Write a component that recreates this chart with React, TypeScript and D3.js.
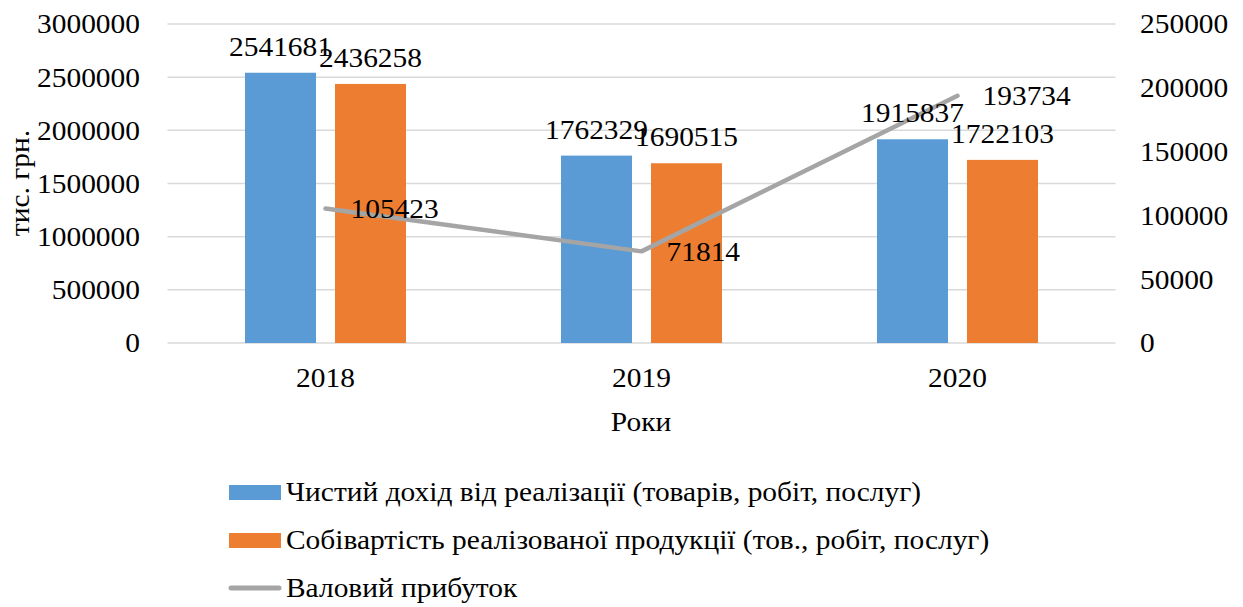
import React from 'react';
import * as d3 from 'd3';

// chart data
const years = ['2018', '2019', '2020'];
const revenue = [2541681, 1762329, 1915837];
const cost = [2436258, 1690515, 1722103];
const grossProfit = [105423, 71814, 193734];

const leftTicks = [0, 500000, 1000000, 1500000, 2000000, 2500000, 3000000];
const rightTicks = [0, 50000, 100000, 150000, 200000, 250000];

const seriesNames = [
  'Чистий дохід від реалізації (товарів, робіт, послуг)',
  'Собівартість реалізованої продукції (тов., робіт, послуг)',
  'Валовий прибуток',
];
const colors = ['#5b9bd5', '#ed7d31', '#a5a5a5'];

const W = 1243;
const H = 607;
const font = '"Liberation Serif", "Times New Roman", serif';
const fs = 27;
const sx = 1.09; // the source image text is slightly wide

// text with a small horizontal stretch, anchored at (x, y)
function T(props: { x: number; y: number; anchor?: string; rotate?: number; dy?: string; children: any }) {
  const { x, y, anchor = 'start', rotate = 0, dy = '0.35em', children } = props;
  return (
    <text
      transform={`translate(${x},${y}) rotate(${rotate}) scale(${sx},1)`}
      dy={dy}
      textAnchor={anchor}
      fontSize={fs}
      fill="#000"
    >{children}</text>
  );
}

export default function App() {
  const x = d3.scaleBand<string>().domain(years).range([167.5, 1115.5]);
  const xSub = d3.scaleBand<string>()
    .domain(['rev', 'cost'])
    .range([77.5, 238.5])
    .paddingInner(0.211);
  const yLeft = d3.scaleLinear().domain([0, 3000000]).range([343, 24]);
  const yRight = d3.scaleLinear().domain([0, 250000]).range([343, 24]);

  const bars = years.flatMap((yr, i) => [
    { key: 'rev', yr, v: revenue[i], color: colors[0] },
    { key: 'cost', yr, v: cost[i], color: colors[1] },
  ]);

  const pts = years.map((yr, i) => ({
    x: (x(yr) as number) + x.bandwidth() / 2,
    y: yRight(grossProfit[i]),
    v: grossProfit[i],
  }));

  const line = d3.line<{ x: number; y: number }>().x(d => d.x).y(d => d.y);

  return (
    <div style={{ position: 'absolute', left: 0, top: 0 }}>
      <svg width={W} height={H} style={{ display: 'block', background: '#fff' }} fontFamily={font}>
        {/* gridlines */}
        {leftTicks.map(t => (
          <line key={t} x1={167.5} x2={1115.5} y1={yLeft(t)} y2={yLeft(t)} stroke="#d9d9d9" strokeWidth={1.5} />
        ))}
        {/* left axis labels */}
        {leftTicks.map(t => (
          <T key={t} x={140} y={yLeft(t)} anchor="end">{t}</T>
        ))}
        {/* right axis labels */}
        {rightTicks.map(t => (
          <T key={t} x={1140} y={yRight(t)}>{t}</T>
        ))}
        {/* bars */}
        {bars.map(b => (
          <rect
            key={b.key + b.yr}
            x={(x(b.yr) as number) + (xSub(b.key) as number)}
            y={yLeft(b.v)}
            width={xSub.bandwidth()}
            height={yLeft(0) - yLeft(b.v)}
            fill={b.color}
          />
        ))}
        {/* line */}
        <path d={line(pts) || ''} fill="none" stroke={colors[2]} strokeWidth={4.5} strokeLinejoin="round" strokeLinecap="round" />
        {/* bar labels */}
        {bars.map(b => (
          <T
            key={'l' + b.key + b.yr}
            x={(x(b.yr) as number) + (xSub(b.key) as number) + xSub.bandwidth() / 2}
            y={yLeft(b.v) - 17}
            anchor="middle"
            dy="0"
          >{b.v}</T>
        ))}
        {/* line labels */}
        {pts.map(p => (
          <T key={'p' + p.v} x={p.x + 25} y={p.y}>{p.v}</T>
        ))}
        {/* category labels */}
        {years.map(yr => (
          <T key={yr} x={(x(yr) as number) + x.bandwidth() / 2} y={378} anchor="middle">{yr}</T>
        ))}
        {/* axis titles */}
        <T x={641} y={422} anchor="middle">Роки</T>
        <T x={20} y={183} anchor="middle" rotate={-90}>тис. грн.</T>
        {/* legend */}
        <rect x={229} y={485} width={52} height={15} fill={colors[0]} />
        <rect x={229} y={533} width={52} height={15} fill={colors[1]} />
        <line x1={231} x2={279} y1={588} y2={588} stroke={colors[2]} strokeWidth={5} strokeLinecap="round" />
        {seriesNames.map((s, i) => (
          <T key={s} x={286} y={492 + i * 48}>{s}</T>
        ))}
      </svg>
    </div>
  );
}
